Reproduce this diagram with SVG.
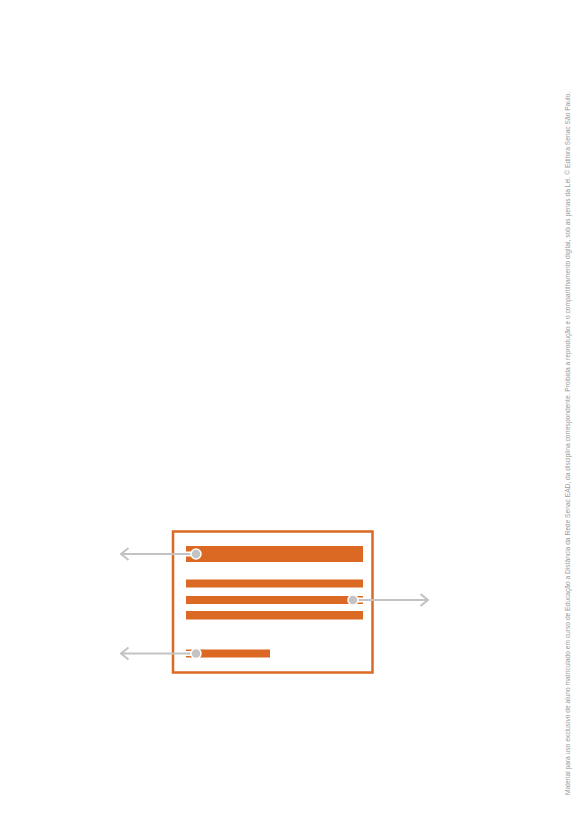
<svg xmlns="http://www.w3.org/2000/svg" width="579" height="832" viewBox="0 0 579 832">
  <defs>
    <style>
      .bar { fill: #dc6923; }
      .frame { fill: none; stroke: #dc6923; stroke-width: 2.5; }
      .halo { stroke: #ffffff; stroke-width: 5; fill: none; }
      .lead { stroke: #c3c3c3; stroke-width: 2; fill: none; }
      .dot { fill: #c3c3c3; stroke: #ffffff; stroke-width: 1.5; }
      .wm { font-family: "Liberation Sans", Arial, sans-serif; font-size: 6.4px; fill: #9a9a9a; }
    </style>
    <marker id="chev" viewBox="0 0 10 14" refX="8.5" refY="7" markerWidth="10" markerHeight="14" markerUnits="userSpaceOnUse" orient="auto">
      <path d="M1,1 L8.5,7 L1,13" fill="none" stroke="#c3c3c3" stroke-width="2"/>
    </marker>
  </defs>
  <rect width="579" height="832" fill="#ffffff"/>

  <g id="document">
    <rect class="frame" x="173" y="531.5" width="199.5" height="141"/>
    <rect class="bar" x="186" y="546" width="177" height="16"/>
    <rect class="bar" x="186" y="579.5" width="177" height="8"/>
    <rect class="bar" x="186" y="596" width="177" height="8"/>
    <rect class="bar" x="186" y="611" width="177" height="8.5"/>
    <rect class="bar" x="186" y="649.5" width="84" height="8"/>
  </g>

  <g id="connectors">
    <line class="halo" x1="186" y1="554" x2="196" y2="554"/>
    <line class="halo" x1="353" y1="600" x2="363" y2="600"/>
    <line class="halo" x1="186" y1="653.5" x2="196" y2="653.5"/>
    <line class="lead" x1="196" y1="554" x2="121" y2="554" marker-end="url(#chev)"/>
    <line class="lead" x1="353" y1="600" x2="428" y2="600" marker-end="url(#chev)"/>
    <line class="lead" x1="196" y1="653.5" x2="121" y2="653.5" marker-end="url(#chev)"/>
  </g>

  <g id="dot-title"><circle class="dot" cx="196" cy="554" r="5"/></g>
  <g id="dot-body"><circle class="dot" cx="353" cy="600" r="5"/></g>
  <g id="dot-footer"><circle class="dot" cx="196" cy="653.5" r="5"/></g>

  <text class="wm" transform="translate(570,795) rotate(-90)" textLength="703" lengthAdjust="spacingAndGlyphs">Material para uso exclusivo de aluno matriculado em curso de Educação a Distância da Rede Senac EAD, da disciplina correspondente. Proibida a reprodução e o compartilhamento digital, sob as penas da Lei. © Editora Senac São Paulo.</text>
</svg>
